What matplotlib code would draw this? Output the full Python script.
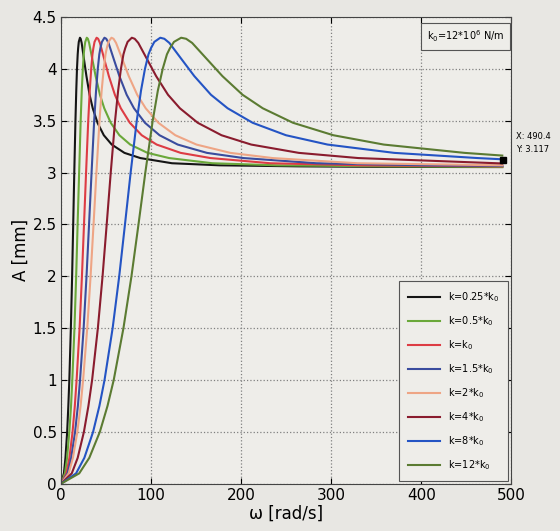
import matplotlib
matplotlib.use("Agg")
import matplotlib.pyplot as plt

# omega [rad/s] and amplitude A [mm], one pair per curve
w_025 = [0, 3.2, 4.9, 6.8, 8.1, 9.2, 10.9, 12.3, 13.5, 14.7, 16.0, 16.9, 17.7, 18.5, 19.0, 19.7,
         21.0, 21.8, 22.9, 25.5, 28.2, 31.7, 35.2, 40.5, 47.5, 56.3, 70.4, 88.0, 123.2, 176.0,
         264.0, 352.0, 490.0]
a_025 = [0, 0.1, 0.25, 0.5, 0.75, 1.0, 1.5, 2.0, 2.5, 3.0, 3.5, 3.79, 4.0, 4.14, 4.2, 4.26,
         4.30, 4.29, 4.25, 4.09, 3.93, 3.75, 3.62, 3.48, 3.36, 3.27, 3.19, 3.14, 3.09, 3.07,
         3.06, 3.055, 3.053]

w_05 = [0, 4.3, 6.7, 9.2, 11.1, 12.5, 14.9, 16.8, 18.4, 20.1, 21.8, 23.0, 24.2, 25.2, 25.9, 26.9,
        28.6, 29.8, 31.2, 34.8, 38.4, 43.2, 48.0, 55.2, 64.8, 76.8, 96.0, 120.0, 168.0, 240.0,
        360.0, 490.0]
a_05 = [0, 0.1, 0.25, 0.5, 0.75, 1.0, 1.5, 2.0, 2.5, 3.0, 3.5, 3.79, 4.0, 4.14, 4.2, 4.26,
        4.30, 4.29, 4.25, 4.09, 3.93, 3.75, 3.62, 3.48, 3.36, 3.27, 3.19, 3.14, 3.09, 3.07,
        3.06, 3.055]

w_1 = [0, 6.0, 9.3, 12.8, 15.3, 17.3, 20.6, 23.2, 25.5, 27.8, 30.2, 31.9, 33.5, 34.9, 35.9, 37.2,
       39.5, 41.2, 43.2, 48.1, 53.1, 59.8, 66.4, 76.4, 89.6, 106.2, 132.8, 166.0, 232.4, 332.0,
       490.0]
a_1 = [0, 0.1, 0.25, 0.5, 0.75, 1.0, 1.5, 2.0, 2.5, 3.0, 3.5, 3.79, 4.0, 4.14, 4.2, 4.26,
       4.30, 4.29, 4.25, 4.09, 3.93, 3.75, 3.62, 3.48, 3.36, 3.27, 3.19, 3.14, 3.09, 3.07,
       3.06]

w_15 = [0, 7.3, 11.3, 15.6, 18.7, 21.1, 25.1, 28.3, 31.1, 33.9, 36.8, 38.9, 40.8, 42.5, 43.7, 45.4,
        48.2, 50.2, 52.7, 58.7, 64.8, 72.9, 81.0, 93.2, 109.4, 129.6, 162.0, 202.5, 283.5, 405.0,
        490.0]
a_15 = [0, 0.1, 0.25, 0.5, 0.75, 1.0, 1.5, 2.0, 2.5, 3.0, 3.5, 3.79, 4.0, 4.14, 4.2, 4.26,
        4.30, 4.29, 4.25, 4.09, 3.93, 3.75, 3.62, 3.48, 3.36, 3.27, 3.19, 3.14, 3.09, 3.07,
        3.065]

w_2 = [0, 8.5, 13.2, 18.1, 21.7, 24.5, 29.1, 32.8, 36.1, 39.3, 42.7, 45.1, 47.4, 49.4, 50.8, 52.6,
       56.0, 58.3, 61.1, 68.2, 75.2, 84.6, 94.0, 108.1, 126.9, 150.4, 188.0, 235.0, 329.0, 490.0]
a_2 = [0, 0.1, 0.25, 0.5, 0.75, 1.0, 1.5, 2.0, 2.5, 3.0, 3.5, 3.79, 4.0, 4.14, 4.2, 4.26,
       4.30, 4.29, 4.25, 4.09, 3.93, 3.75, 3.62, 3.48, 3.36, 3.27, 3.19, 3.14, 3.09, 3.07]

w_4 = [0, 11.9, 18.5, 25.4, 30.4, 34.5, 40.9, 46.1, 50.7, 55.2, 60.0, 63.4, 66.5, 69.3, 71.3, 73.9,
       78.6, 81.8, 85.8, 95.7, 105.6, 118.8, 132.0, 151.8, 178.2, 211.2, 264.0, 330.0, 490.0]
a_4 = [0, 0.1, 0.25, 0.5, 0.75, 1.0, 1.5, 2.0, 2.5, 3.0, 3.5, 3.79, 4.0, 4.14, 4.2, 4.26,
       4.30, 4.29, 4.25, 4.09, 3.93, 3.75, 3.62, 3.48, 3.36, 3.27, 3.19, 3.14, 3.088]

w_8 = [0, 16.7, 25.9, 35.6, 42.6, 48.3, 57.3, 64.6, 71.0, 77.3, 84.1, 88.8, 93.2, 97.1, 99.9, 103.6,
       110.2, 114.7, 120.3, 134.1, 148.0, 166.5, 185.0, 212.8, 249.8, 296.0, 370.0, 462.5, 490.0]
a_8 = [0, 0.1, 0.25, 0.5, 0.75, 1.0, 1.5, 2.0, 2.5, 3.0, 3.5, 3.79, 4.0, 4.14, 4.2, 4.26,
       4.30, 4.29, 4.25, 4.09, 3.93, 3.75, 3.62, 3.48, 3.36, 3.27, 3.19, 3.14, 3.128]

w_12 = [0, 20.2, 31.4, 43.1, 51.6, 58.5, 69.3, 78.2, 86.0, 93.6, 101.8, 107.5, 112.9, 117.6, 121.0,
        125.4, 133.4, 138.9, 145.6, 162.4, 179.2, 201.6, 224.0, 257.6, 302.4, 358.4, 448.0, 490.0]
a_12 = [0, 0.1, 0.25, 0.5, 0.75, 1.0, 1.5, 2.0, 2.5, 3.0, 3.5, 3.79, 4.0, 4.14, 4.2, 4.26,
        4.30, 4.29, 4.25, 4.09, 3.93, 3.75, 3.62, 3.48, 3.36, 3.27, 3.19, 3.164]

labels = ["k=0.25*k$_0$", "k=0.5*k$_0$", "k=k$_0$", "k=1.5*k$_0$",
          "k=2*k$_0$", "k=4*k$_0$", "k=8*k$_0$", "k=12*k$_0$"]
colors = ["#151515", "#6aa83a", "#dd3c44", "#3a4c9e",
          "#eea585", "#8a1c2e", "#2454c4", "#5b7b32"]
series = [(w_025, a_025), (w_05, a_05), (w_1, a_1), (w_15, a_15),
          (w_2, a_2), (w_4, a_4), (w_8, a_8), (w_12, a_12)]

tip_x, tip_y = 490.4, 3.117

fig = plt.figure(figsize=(5.6, 5.31), dpi=100, facecolor="#e8e7e3")
ax = fig.add_axes([0.109, 0.089, 0.804, 0.879], facecolor="#eeede9")

for (w, a), lab, col in zip(series, labels, colors):
    ax.plot(w, a, color=col, lw=1.5, label=lab)

ax.plot([tip_x], [tip_y], marker="s", color="black", ms=5, zorder=5)
ax.text(1.01, (tip_y + 0.17) / 4.5, f"X: {tip_x}\nY: {tip_y}", transform=ax.transAxes,
        fontsize=6, va="center", ha="left", linespacing=1.6, clip_on=False)

ax.set_xlim(0, 500)
ax.set_ylim(0, 4.5)
ax.set_xticks([0, 100, 200, 300, 400, 500])
ax.set_yticks([0, 0.5, 1, 1.5, 2, 2.5, 3, 3.5, 4, 4.5])
ax.set_yticklabels(["0", "0.5", "1", "1.5", "2", "2.5", "3", "3.5", "4", "4.5"])
ax.tick_params(direction="in", top=True, right=True, labelsize=11, length=4, pad=3)
ax.grid(True, linestyle=":", color="#808080", lw=0.9)
for sp in ax.spines.values():
    sp.set_color("#444444")
    sp.set_linewidth(0.8)

ax.set_xlabel("ω [rad/s]", fontsize=12, labelpad=1)
ax.set_ylabel("A [mm]", fontsize=12, labelpad=2)

ax.text(0.985, 0.975, "k$_0$=12*10$^6$ N/m", transform=ax.transAxes, fontsize=7,
        ha="right", va="top",
        bbox=dict(boxstyle="square,pad=0.6", fc="#eeede9", ec="#555555", lw=0.8))

leg = ax.legend(loc="lower right", fontsize=7, labelspacing=1.05, handlelength=3.3,
                borderpad=0.9, framealpha=1, fancybox=False, edgecolor="#555555",
                facecolor="#eeede9", borderaxespad=0.3)
leg.get_frame().set_linewidth(0.8)

fig.savefig("out.png", dpi=100, facecolor=fig.get_facecolor())
